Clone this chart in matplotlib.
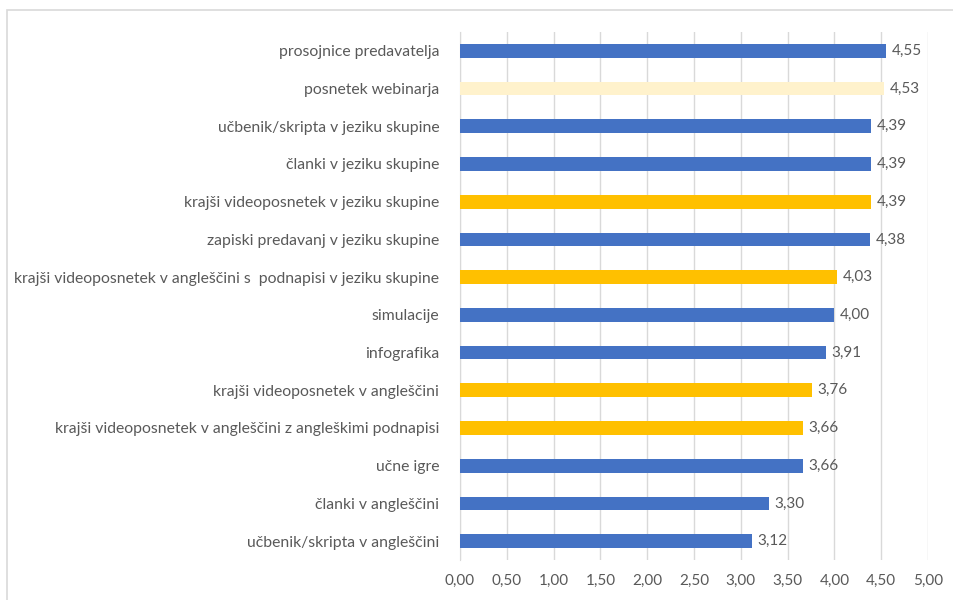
import matplotlib
matplotlib.use("Agg")
import matplotlib.pyplot as plt
from matplotlib.patches import Rectangle

categories = [
    "prosojnice predavatelja",
    "posnetek webinarja",
    "učbenik/skripta v jeziku skupine",
    "članki v jeziku skupine",
    "krajši videoposnetek v jeziku skupine",
    "zapiski predavanj v jeziku skupine",
    "krajši videoposnetek v angleščini s  podnapisi v jeziku skupine",
    "simulacije",
    "infografika",
    "krajši videoposnetek v angleščini",
    "krajši videoposnetek v angleščini z angleškimi podnapisi",
    "učne igre",
    "članki v angleščini",
    "učbenik/skripta v angleščini",
]
values = [4.55, 4.53, 4.39, 4.39, 4.39, 4.38, 4.03, 4.00, 3.91, 3.76, 3.66, 3.66, 3.30, 3.12]
groups = ["b", "c", "b", "b", "y", "b", "y", "b", "b", "y", "y", "b", "b", "b"]

palette = {"b": "#4472C4", "c": "#FFF2CC", "y": "#FFC000"}
text_color = "#595959"

plt.rcParams["font.family"] = ["Lato", "DejaVu Sans"]

fig = plt.figure(figsize=(9.54, 6.0), dpi=100)
ax = fig.add_axes([460 / 954, 1 - 560 / 600, (928 - 460) / 954, (560 - 32) / 600])

# outer chart border (runs off the right/bottom edge as in the screenshot)
fig.patches.append(Rectangle((7 / 954, -0.05), 1.0, 1 - 10 / 600 + 0.05,
                             transform=fig.transFigure, fill=False,
                             edgecolor="#D9D9D9", linewidth=1.2))

n = len(categories)
ypos = list(range(n - 1, -1, -1))
colors = [palette[g] for g in groups]
ax.barh(ypos, values, height=0.36, color=colors, zorder=3)

for y, v in zip(ypos, values):
    ax.text(v + 0.06, y, f"{v:.2f}".replace(".", ","), va="center", ha="left",
            fontsize=11, color=text_color)

ax.set_xlim(0, 5)
ax.set_ylim(-0.5, n - 0.5)
ax.set_xticks([i * 0.5 for i in range(11)])
ax.set_xticklabels([f"{i * 0.5:.2f}".replace(".", ",") for i in range(11)])
ax.set_yticks(ypos)
ax.set_yticklabels(categories)
ax.tick_params(axis="both", length=0, colors=text_color)
ax.tick_params(axis="y", pad=15, labelsize=11.3)
ax.tick_params(axis="x", pad=10, labelsize=11)
ax.grid(axis="x", color="#D9D9D9", linewidth=1, zorder=0)

for side in ["top", "right", "bottom"]:
    ax.spines[side].set_visible(False)
ax.spines["left"].set_color("#D9D9D9")

fig.savefig("out.png", dpi=100)
